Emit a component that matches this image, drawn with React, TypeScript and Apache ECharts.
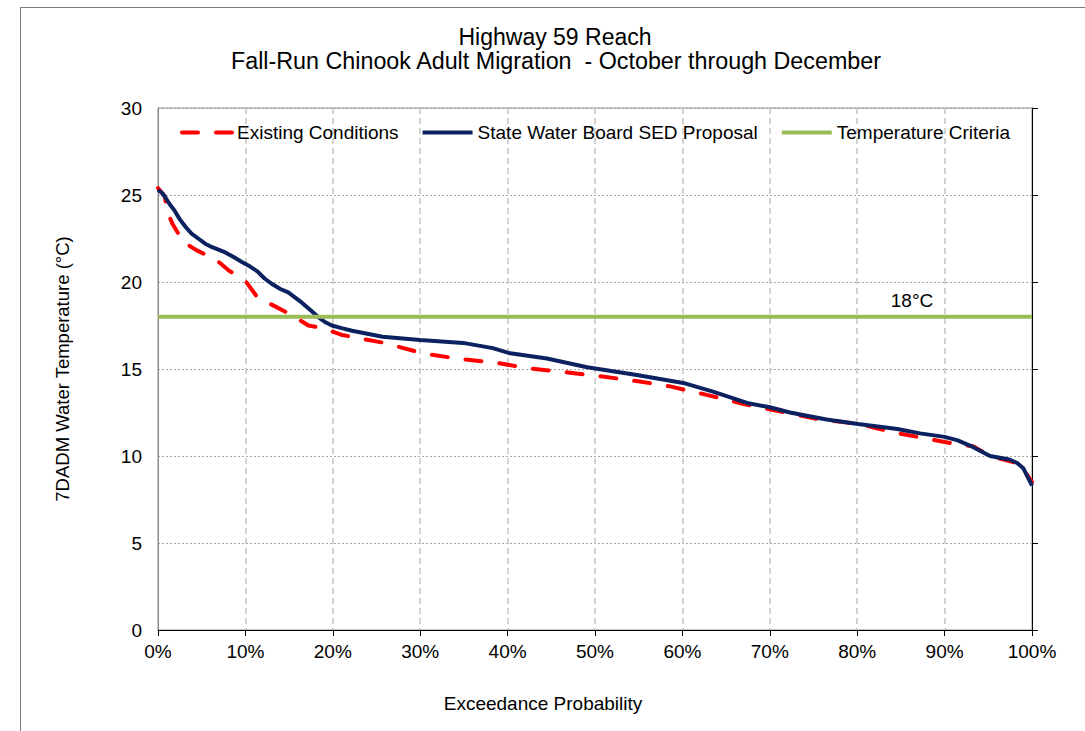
import React, { useEffect, useRef } from "react";
import * as echarts from "echarts";

// Exceedance probability (%) and 7DADM temperature (°C) for each scenario
const existingP = [0, 0.8, 1.0, 1.7, 2.9, 4.5, 6.6, 8.0, 9.2, 10.1, 11.4, 13.4, 15.3, 17.2, 18.8, 21.1, 25.9, 30.3, 34.2, 38.8, 42.3, 46.9, 50.3, 54.9, 58.6, 62.9, 66.9, 72.3, 75.7, 80.1, 82.6, 84.8, 90.6, 93.3, 95.2, 98.3, 99.2, 100];
const existingT = [25.4, 24.9, 24.1, 23.3, 22.3, 21.8, 21.3, 20.7, 20.3, 20.0, 19.1, 18.6, 18.1, 17.5, 17.35, 16.95, 16.5, 15.9, 15.6, 15.35, 15.05, 14.8, 14.6, 14.3, 14.0, 13.5, 13.0, 12.45, 12.1, 11.85, 11.55, 11.3, 10.75, 10.55, 10.0, 9.6, 9.1, 8.5];

const sedP = [0, 0.5, 0.8, 1.3, 1.9, 2.5, 3.1, 3.8, 4.6, 5.4, 6.2, 7.7, 8.6, 9.6, 10.5, 11.4, 12.2, 13.0, 14.0, 14.9, 15.7, 16.5, 17.4, 18.3, 19.1, 19.9, 21.0, 22.2, 25.7, 30.0, 34.9, 38.3, 40.3, 44.5, 49.1, 54.8, 60.1, 63.5, 67.4, 70.0, 72.3, 76.5, 80.1, 84.6, 87.2, 90.0, 91.5, 92.9, 95.2, 96.3, 97.4, 98.3, 99.0, 99.4, 100];
const sedT = [25.3, 25.1, 24.9, 24.5, 24.1, 23.6, 23.2, 22.8, 22.5, 22.2, 22.0, 21.7, 21.45, 21.15, 20.9, 20.6, 20.2, 19.9, 19.6, 19.4, 19.1, 18.8, 18.4, 18.0, 17.7, 17.5, 17.35, 17.2, 16.85, 16.67, 16.5, 16.2, 15.9, 15.6, 15.1, 14.65, 14.2, 13.7, 13.05, 12.8, 12.5, 12.1, 11.84, 11.55, 11.3, 11.1, 10.9, 10.6, 10.0, 9.9, 9.8, 9.6, 9.3, 8.9, 8.3];

const criteriaP = [0, 100];
const criteriaT = [18, 18];
const criteriaLabel = "18°C";

const seriesNames = ["Existing Conditions", "State Water Board SED Proposal", "Temperature Criteria"];
const titleLines = ["Highway 59 Reach", "Fall-Run Chinook Adult Migration  - October through December"];
const xAxisName = "Exceedance Probability";
const yAxisName = "7DADM Water Temperature (°C)";

const FONT = "'Liberation Sans', Arial, sans-serif";

const pairs = (xs: number[], ys: number[]) => xs.map((x, i) => [x, ys[i]]);

export default function App() {
  const ref = useRef<HTMLDivElement>(null);
  useEffect(() => {
    if (!ref.current) return;
    const chart = echarts.init(ref.current, undefined, { renderer: "svg" });
    const textStyle = (size: number) => ({ fill: "#000", font: `${size}px ${FONT}` });
    chart.setOption({
      animation: false,
      backgroundColor: "#fff",
      textStyle: { fontFamily: FONT },
      grid: {
        left: 158,
        right: 53,
        top: 108,
        bottom: 101,
        show: true,
        borderColor: "#8a8a8a",
        borderWidth: 1,
        backgroundColor: "transparent",
      },
      legend: {
        top: 118,
        left: 175,
        itemWidth: 50,
        itemHeight: 14,
        itemGap: 22,
        itemStyle: { opacity: 0 },
        textStyle: { fontSize: 19, color: "#000", fontFamily: FONT },
        data: [
          { name: seriesNames[0], lineStyle: { width: 4 } },
          { name: seriesNames[1], lineStyle: { width: 4 } },
          { name: seriesNames[2], lineStyle: { width: 4 } },
        ],
      },
      xAxis: {
        type: "value",
        min: 0,
        max: 100,
        interval: 10,
        axisLine: { show: true, lineStyle: { color: "#000", width: 1 } },
        axisTick: { show: true, length: 6, lineStyle: { color: "#000" } },
        axisLabel: { formatter: "{value}%", fontSize: 19, color: "#000", margin: 12, fontFamily: FONT },
        splitLine: { show: true, lineStyle: { color: "#c4c4c4", type: [6, 4], width: 1.5 } },
      },
      yAxis: [
        {
          type: "value",
          position: "left",
          min: 0,
          max: 30,
          interval: 5,
          axisLine: { show: true, lineStyle: { color: "#8a8a8a", width: 1 } },
          axisTick: { show: false },
          axisLabel: { fontSize: 19, color: "#000", margin: 16, fontFamily: FONT },
          splitLine: { show: true, lineStyle: { color: "#a6a6a6", type: [2, 2], width: 1 } },
        },
        {
          type: "value",
          position: "right",
          min: 0,
          max: 30,
          interval: 5,
          axisLine: { show: true, lineStyle: { color: "#000", width: 1 } },
          axisTick: { show: true, length: 6, lineStyle: { color: "#000" } },
          axisLabel: { show: false },
          splitLine: { show: false },
        },
      ],
      series: [
        {
          name: seriesNames[0],
          type: "line",
          data: pairs(existingP, existingT),
          symbol: "none",
          showSymbol: false,
          z: 2,
          lineStyle: { color: "#ff0000", width: 4, type: [16, 18], cap: "round" },
          itemStyle: { color: "#ff0000" },
        },
        {
          name: seriesNames[1],
          type: "line",
          data: pairs(sedP, sedT),
          symbol: "none",
          showSymbol: false,
          z: 3,
          lineStyle: { color: "#0b2160", width: 4 },
          itemStyle: { color: "#0b2160" },
        },
        {
          name: seriesNames[2],
          type: "line",
          data: pairs(criteriaP, criteriaT),
          symbol: "none",
          showSymbol: false,
          z: 4,
          lineStyle: { color: "#9bbb59", width: 4 },
          itemStyle: { color: "#9bbb59" },
        },
      ],
      graphic: [
        { type: "line", shape: { x1: 20.5, y1: 7.5, x2: 1085, y2: 7.5 }, style: { stroke: "#7a7a7a", lineWidth: 1 } },
        { type: "line", shape: { x1: 20.5, y1: 7.5, x2: 20.5, y2: 731 }, style: { stroke: "#7a7a7a", lineWidth: 1 } },
        { type: "text", x: 555, y: 37, style: { ...textStyle(23), text: titleLines[0], textAlign: "center", textVerticalAlign: "middle" } },
        { type: "text", x: 556, y: 61, style: { ...textStyle(23.3), text: titleLines[1], textAlign: "center", textVerticalAlign: "middle" } },
        { type: "text", x: 543, y: 703, style: { ...textStyle(19), text: xAxisName, textAlign: "center", textVerticalAlign: "middle" } },
        { type: "text", x: 62, y: 369, rotation: Math.PI / 2, style: { ...textStyle(18.5), text: yAxisName, textAlign: "center", textVerticalAlign: "middle" } },
        { type: "text", x: 912, y: 300, z: 10, style: { ...textStyle(19), text: criteriaLabel, textAlign: "center", textVerticalAlign: "middle" } },
      ],
    });
    return () => chart.dispose();
  }, []);
  return <div ref={ref} style={{ position: "absolute", left: 0, top: 0, width: 1085, height: 731 }} />;
}
